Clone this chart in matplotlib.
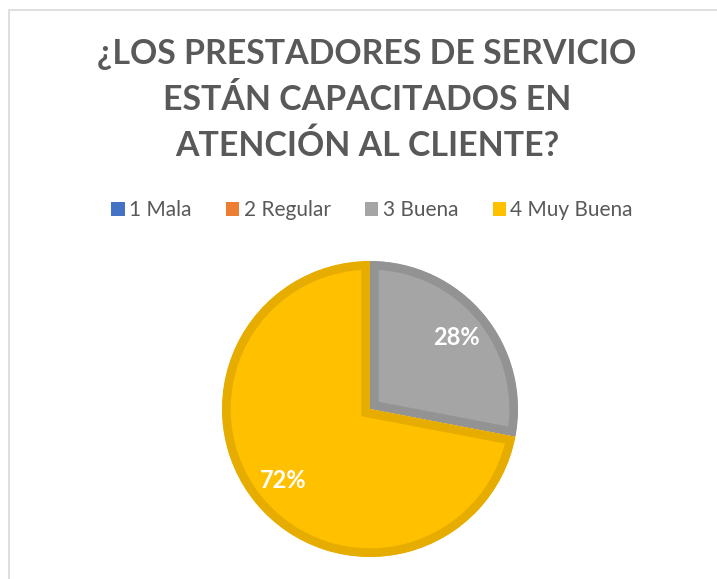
import matplotlib
matplotlib.use("Agg")
import matplotlib.pyplot as plt
from matplotlib.patches import Patch, Rectangle

# data
categories = ["1 Mala", "2 Regular", "3 Buena", "4 Muy Buena"]
values = [0, 0, 28, 72]
colors = ["#4472C4", "#ED7D31", "#A5A5A5", "#FFC000"]
edge_colors = ["#3A62A8", "#CC6A29", "#939393", "#E6AC00"]
title = "¿LOS PRESTADORES DE SERVICIO\nESTÁN CAPACITADOS EN\nATENCIÓN AL CLIENTE?"

plt.rcParams["font.family"] = ["Lato", "DejaVu Sans"]

W, H = 717, 579
fig = plt.figure(figsize=(W / 100, H / 100), dpi=100)

# light frame around the chart area (goes off the right/bottom of the image)
fig.patches.append(Rectangle((9 / W, -0.1), 1.2, (H - 10) / H + 0.1,
                             transform=fig.transFigure, fill=False,
                             edgecolor="#D9D9D9", linewidth=1.2))

fig.text(367 / W, 1 - 100 / H, title, ha="center", va="center",
         fontsize=24.4, fontweight="bold", color="#595959", linespacing=1.52)

handles = [Patch(facecolor=c, edgecolor="none") for c in colors]
fig.legend(handles, categories, loc="center", bbox_to_anchor=(372 / W, 1 - 210 / H),
           ncol=4, frameon=False, fontsize=15, labelcolor="#595959",
           handlelength=0.65, handleheight=0.65, handletextpad=0.2,
           columnspacing=1.65)

cx, cy, r = 370, 409, 148
ax = fig.add_axes([(cx - r) / W, (H - cy - r) / H, 2 * r / W, 2 * r / H])
ax.set_aspect("equal")

shown = [i for i, v in enumerate(values) if v > 0]
wedges, texts, autotexts = ax.pie(
    [values[i] for i in shown], colors=[colors[i] for i in shown],
    startangle=90, counterclock=False, radius=1.0,
    autopct="%1.0f%%", pctdistance=0.76,
    wedgeprops=dict(linewidth=12.5),
    textprops=dict(color="white", fontsize=17, fontweight="bold"))
for w, i in zip(wedges, shown):
    w.set_edgecolor(edge_colors[i])
    # keep the border inside each slice
    w.set_clip_on(True)
    w.set_clip_path(w)
ax.set_xlim(-1, 1)
ax.set_ylim(-1, 1)

fig.savefig("out.png", dpi=100)
